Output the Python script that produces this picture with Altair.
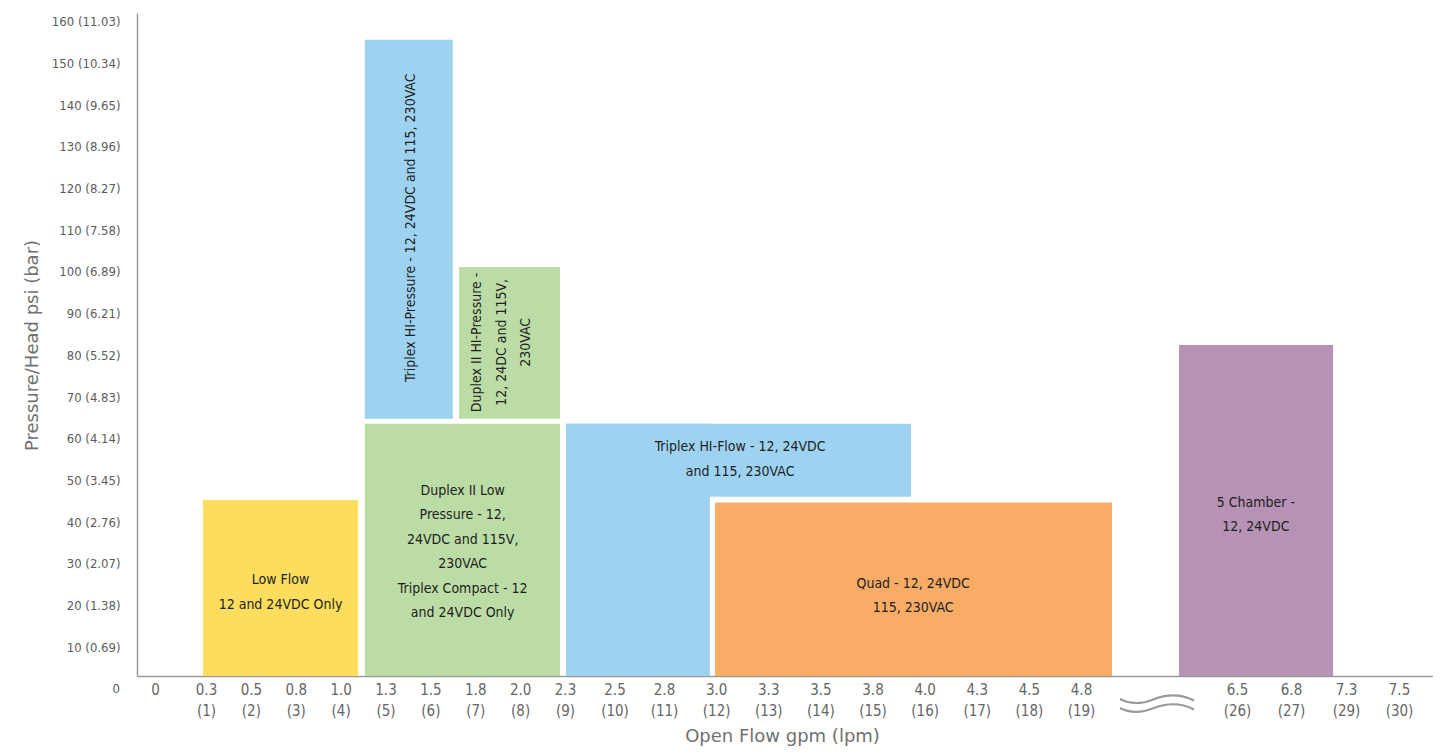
import altair as alt
import pandas as pd

# ---------------- data ----------------
lpm_ticks = [0, 1, 2, 3, 4, 5, 6, 7, 8, 9, 10, 11, 12, 13, 14, 15, 16, 17, 18, 19, 26, 27, 29, 30]
gpm_labels = ['0', '0.3', '0.5', '0.8', '1.0', '1.3', '1.5', '1.8', '2.0', '2.3', '2.5', '2.8',
              '3.0', '3.3', '3.5', '3.8', '4.0', '4.3', '4.5', '4.8', '6.5', '6.8', '7.3', '7.5']
psi_ticks = [10, 20, 30, 40, 50, 60, 70, 80, 90, 100, 110, 120, 130, 140, 150, 160]
bar_labels = ['0.69', '1.38', '2.07', '2.76', '3.45', '4.14', '4.83', '5.52', '6.21', '6.89',
              '7.58', '8.27', '8.96', '9.65', '10.34', '11.03']

# pump ranges (flow in lpm, pressure in psi)
pump = ['Low Flow', 'Duplex II Low', 'Triplex HI-Pressure', 'Duplex II HI-Pressure',
        'Triplex HI-Flow (wide)', 'Triplex HI-Flow (narrow)', 'Quad', '5 Chamber']
flow_from = [0.94, 4.54, 4.54, 6.64, 9.02, 9.02, 11.98, 23.40]
flow_to = [4.39, 8.89, 6.50, 8.89, 15.74, 11.88, 20.39, 28.53]
psi_from = [0, 0, 64.8, 64.8, 46.1, 0, 0, 0]
psi_to = [45.3, 63.6, 155.7, 101.2, 63.6, 63.6, 44.7, 82.5]
colors = ['#FDDD5E', '#BCDCA5', '#9DD3F1', '#BCDCA5', '#9DD3F1', '#9DD3F1', '#F9AC66', '#B692B4']

label_text = [
    'Low Flow\n12 and 24VDC Only',
    'Duplex II Low\nPressure - 12,\n24VDC and 115V,\n230VAC\nTriplex Compact - 12\nand 24VDC Only',
    'Triplex HI-Pressure - 12, 24VDC and 115, 230VAC',
    'Duplex II HI-Pressure -\n12, 24DC and 115V,\n230VAC',
    'Triplex HI-Flow - 12, 24VDC\nand 115, 230VAC',
    'Quad - 12, 24VDC\n115, 230VAC',
    '5 Chamber -\n12, 24VDC',
]
# anchor of the first text line
label_flow = [2.66, 6.72, 5.57, 7.04, 12.46, 15.78, 26.35]
label_psi = [26.1, 47.5, 110.6, 83.1, 58.0, 25.2, 44.6]
label_vertical = [False, False, True, True, False, False, False]

break_flow = [22.41]
break_psi = [-3.4]

# ---------------- layout ----------------
W, H = 1296, 663
NARROW = "Liberation Sans Narrow, DejaVu Sans Condensed, Arial Narrow, sans-serif"
WIDE = "DejaVu Sans, Verdana, sans-serif"

# hand-spaced, broken flow axis as a piecewise linear scale
x_dom = [-0.353, 0, 1, 9, 11, 19, 26, 27, 29, 30, 30.64]
x_frac = [0, 18, 69, 428, 527, 944, 1100, 1154, 1209, 1262, 1296]
xscale = alt.Scale(domain=x_dom, range=[W * f / 1296 for f in x_frac], nice=False, zero=False)
yscale = alt.Scale(domain=[3.1, 162.1], nice=False, zero=False)

gpm_js = "[" + ",".join(f"'{g}'" for g in gpm_labels) + "]"
ticks_js = "[" + ",".join(str(t) for t in lpm_ticks) + "]"
x_label_expr = (f"datum.value === 0 ? '0' : [{gpm_js}[indexof({ticks_js}, datum.value)], "
                f"'(' + datum.value + ')']")
bar_js = "[" + ",".join(f"'{b}'" for b in bar_labels) + "]"
psi_js = "[" + ",".join(str(p) for p in psi_ticks) + "]"
y_label_expr = f"datum.value + ' (' + {bar_js}[indexof({psi_js}, datum.value)] + ')'"

xaxis = alt.Axis(values=lpm_ticks, labelExpr=x_label_expr, ticks=False, tickSize=0, grid=False,
                 labelPadding=6, labelBaseline='top', labelFont=NARROW, labelFontSize=15,
                 labelLineHeight=21, labelColor='#666666', labelOverlap=False, labelFlush=False,
                 domainColor='#9a9a9a', domainWidth=1.5,
                 title='Open Flow gpm (lpm)', titleFont=WIDE, titleFontSize=18, titleFontWeight='normal',
                 titleColor='#707070', titleX=645, titleY=65, titleAlign='center',
                 titleBaseline='alphabetic')
yaxis = alt.Axis(values=psi_ticks, labelExpr=y_label_expr, ticks=False, tickSize=0, grid=False,
                 labelPadding=17, labelFont=NARROW, labelFontSize=13, labelColor='#5c5c5c',
                 labelOverlap=False, domainColor='#9a9a9a', domainWidth=1.5,
                 title='Pressure/Head psi (bar)', titleFont=WIDE, titleFontSize=18, titleFontWeight='normal',
                 titleColor='#707070', titleX=-105, titleY=332, titleAngle=270, titleAlign='center',
                 titleBaseline='middle')

bars_df = pd.DataFrame({'pump': pump, 'f0': flow_from, 'f1': flow_to, 'p0': psi_from, 'p1': psi_to,
                        'color': colors})
labels_df = pd.DataFrame({'text': label_text, 'f': label_flow, 'p': label_psi, 'vert': label_vertical})
zero_df = pd.DataFrame({'p': [0], 't': ['0']})
break_df = pd.DataFrame({'f': break_flow, 'p': break_psi})

bars = alt.Chart(bars_df).mark_rect(clip=True).encode(
    x=alt.X('f0:Q', scale=xscale, axis=xaxis),
    x2='f1:Q',
    y=alt.Y('p0:Q', scale=yscale, axis=yaxis),
    y2='p1:Q',
    color=alt.Color('color:N', scale=None),
)

text_common = dict(lineBreak='\n', font=NARROW, fontSize=14, lineHeight=24.5, color='#1e1e1e',
                   align='center', baseline='middle')
htext = alt.Chart(labels_df).transform_filter('!datum.vert').mark_text(**text_common).encode(
    x=alt.X('f:Q', scale=xscale, axis=xaxis),
    y=alt.Y('p:Q', scale=yscale, axis=yaxis),
    text='text:N',
)
vtext = alt.Chart(labels_df).transform_filter('datum.vert').mark_text(angle=270, **text_common).encode(
    x=alt.X('f:Q', scale=xscale, axis=xaxis),
    y=alt.Y('p:Q', scale=yscale, axis=yaxis),
    text='text:N',
)

zero_label = alt.Chart(zero_df).mark_text(font=NARROW, fontSize=13, color='#5c5c5c', align='right',
                                          baseline='middle').encode(
    x=alt.value(-17),
    y=alt.Y('p:Q', scale=yscale, axis=yaxis),
    text='t:N',
)

wave_path = ("M-1,-0.11 C-0.75,0.02 -0.45,0.04 -0.1,-0.1 C0.25,-0.24 0.6,-0.27 1,-0.07 "
             "M-1,0.13 C-0.75,0.26 -0.45,0.28 -0.1,0.14 C0.25,0 0.6,-0.03 1,0.17")
wave = alt.Chart(break_df).mark_point(shape=wave_path, size=74 * 74, filled=False, stroke='#9a9a9a',
                                      strokeWidth=2.2, opacity=1).encode(
    x=alt.X('f:Q', scale=xscale, axis=xaxis),
    y=alt.Y('p:Q', scale=yscale, axis=yaxis),
)

chart = alt.layer(bars, htext, vtext, zero_label, wave).properties(
    width=W, height=H, autosize='none',
    padding={'left': 129, 'top': 5, 'right': 0, 'bottom': 70},
).configure_view(stroke=None)

chart.save("out.html", embed_options={"renderer": "svg", "actions": False})
